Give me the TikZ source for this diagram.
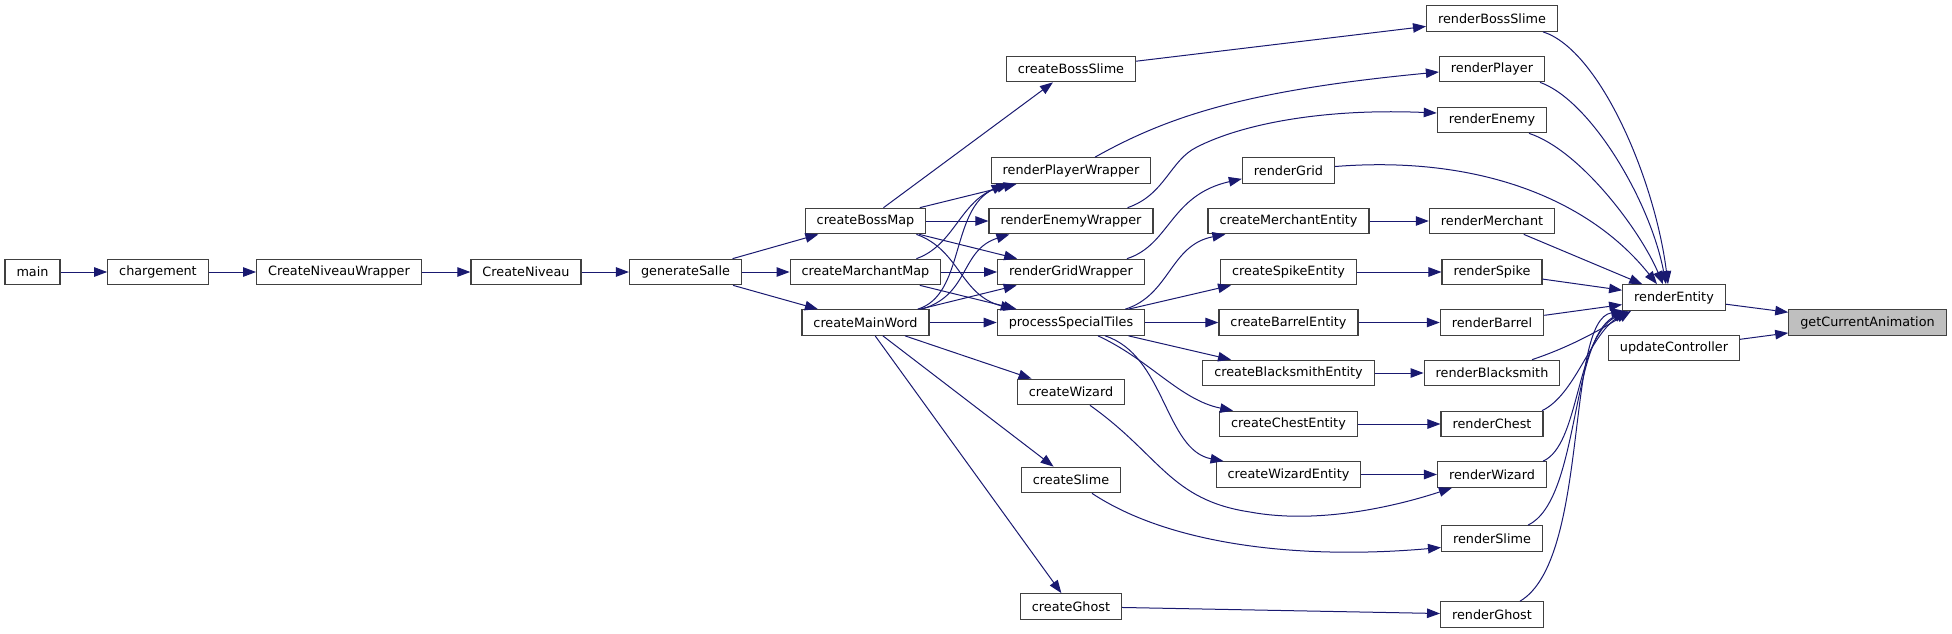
\documentclass[tikz,border=0pt]{standalone}
\usepackage{fontspec}
\setmainfont{DejaVu Sans}
\usepackage{tikz}
\usetikzlibrary{arrows.meta,positioning}

\definecolor{edgeblue}{HTML}{191970}
\definecolor{boxline}{HTML}{404040}
\definecolor{rootfill}{HTML}{BFBFBF}

\begin{document}
\begin{tikzpicture}[
    x=1pt, y=-1pt,
    fnnode/.style={rectangle, draw=boxline, line width=1.2pt, fill=white, minimum height=25.5pt, inner xsep=11.5pt, inner ysep=0pt, font=\fontsize{12.8}{15}\selectfont},
    fnroot/.style={fnnode, fill=rootfill},
    arrow/.style={-{Triangle[length=13pt,width=9.5pt]}, color=edgeblue, line width=1pt}
]
\useasboundingbox (0,0) rectangle (1952,633);

% left chain
\node[fnnode] (main) at (32.5,272) {main};
\node[fnnode] (charg) at (158,272) {chargement};
\node[fnnode] (cnw) at (339,272) {CreateNiveauWrapper};
\node[fnnode] (cn) at (526,272) {CreateNiveau};
\node[fnnode] (gsal) at (685.5,272) {generateSalle};

% maps
\node[fnnode] (cbm) at (865.5,221) {createBossMap};
\node[fnnode] (cmm) at (865.5,272) {createMarchantMap};
\node[fnnode] (cmw) at (865.5,322.5) {createMainWord};

% wrappers and creators
\node[fnnode] (cbs) at (1071,69) {createBossSlime};
\node[fnnode] (rpw) at (1071,170.5) {renderPlayerWrapper};
\node[fnnode] (rew) at (1071,221) {renderEnemyWrapper};
\node[fnnode] (rgw) at (1071,272) {renderGridWrapper};
\node[fnnode] (pst) at (1071,322.5) {processSpecialTiles};
\node[fnnode] (cwiz) at (1071,392) {createWizard};
\node[fnnode] (csl) at (1071,480) {createSlime};
\node[fnnode] (cgh) at (1071,606.5) {createGhost};

% entities
\node[fnnode] (rgrid) at (1288.5,170.5) {renderGrid};
\node[fnnode] (cme) at (1288.5,221) {createMerchantEntity};
\node[fnnode] (cse) at (1288.5,272) {createSpikeEntity};
\node[fnnode] (cbe) at (1288.5,322.5) {createBarrelEntity};
\node[fnnode] (cbse) at (1288.5,373) {createBlacksmithEntity};
\node[fnnode] (cce) at (1288.5,424) {createChestEntity};
\node[fnnode] (cwe) at (1288.5,474.5) {createWizardEntity};

% renderers
\node[fnnode] (rbs) at (1492,18.5) {renderBossSlime};
\node[fnnode] (rpl) at (1492,69) {renderPlayer};
\node[fnnode] (ren) at (1492,120) {renderEnemy};
\node[fnnode] (rme) at (1492,221) {renderMerchant};
\node[fnnode] (rsp) at (1492,272) {renderSpike};
\node[fnnode] (rba) at (1492,322.5) {renderBarrel};
\node[fnnode] (rbl) at (1492,373) {renderBlacksmith};
\node[fnnode] (rch) at (1492,424) {renderChest};
\node[fnnode] (rwi) at (1492,474.5) {renderWizard};
\node[fnnode] (rsl) at (1492,538.5) {renderSlime};
\node[fnnode] (rgh) at (1492,614.5) {renderGhost};

\node[fnnode] (rent) at (1674,297.5) {renderEntity};
\node[fnnode] (upc) at (1674,348) {updateController};
\node[fnroot] (gca) at (1867.5,322.5) {getCurrentAnimation};

% straight calls
\draw[arrow] (main) -- (charg);
\draw[arrow] (charg) -- (cnw);
\draw[arrow] (cnw) -- (cn);
\draw[arrow] (cn) -- (gsal);
\draw[arrow] (gsal) -- (cbm);
\draw[arrow] (gsal) -- (cmm);
\draw[arrow] (gsal) -- (cmw);
\draw[arrow] (cbm) -- (cbs);
\draw[arrow] (cbm) -- (rpw);
\draw[arrow] (cbm) -- (rew);
\draw[arrow] (cbm) -- (rgw);
\draw[arrow] (cmm) -- (rgw);
\draw[arrow] (cmm) -- (pst);
\draw[arrow] (cmw) -- (rgw);
\draw[arrow] (cmw) -- (pst);
\draw[arrow] (cmw) -- (cwiz);
\draw[arrow] (cmw) -- (csl);
\draw[arrow] (cmw) -- (cgh);
\draw[arrow] (cbs) -- (rbs);
\draw[arrow] (pst) -- (cse);
\draw[arrow] (pst) -- (cbe);
\draw[arrow] (pst) -- (cbse);
\draw[arrow] (cme) -- (rme);
\draw[arrow] (cse) -- (rsp);
\draw[arrow] (cbe) -- (rba);
\draw[arrow] (cbse) -- (rbl);
\draw[arrow] (cce) -- (rch);
\draw[arrow] (cwe) -- (rwi);
\draw[arrow] (cgh) -- (rgh);
\draw[arrow] (rme) -- (rent);
\draw[arrow] (rsp) -- (rent);
\draw[arrow] (rba) -- (rent);
\draw[arrow] (rent) -- (gca);
\draw[arrow] (upc) -- (gca);

% curved calls
\draw[arrow] ([xshift=-10pt]cbm.south east) .. controls (960,250) and (960,295) .. ([xshift=17pt]pst.north west);
\draw[arrow] ([xshift=-25pt]cmm.north east) .. controls (955,245) and (960,200) .. ([xshift=19pt]rpw.south west);
\draw[arrow] ([xshift=-12pt]cmw.north east) .. controls (965,295) and (950,210) .. ([xshift=14pt]rpw.south west);
\draw[arrow] ([xshift=-8pt]cmw.north east) .. controls (970,295) and (960,250) .. ([xshift=21pt]rew.south west);
\draw[arrow] ([xshift=24pt]rpw.north) .. controls (1170,115) and (1250,90) .. ([yshift=-3pt]rpl.west);
\draw[arrow] ([xshift=-26pt]rew.north east) .. controls (1165,195) and (1170,160) .. (1197,147)
    .. controls (1240,125) and (1320,108) .. ([yshift=7pt]ren.west);
\draw[arrow] ([xshift=-18pt]rgw.north east) .. controls (1170,245) and (1170,195) .. ([yshift=5pt]rgrid.south west);
\draw[arrow] ([xshift=-20pt]pst.north east) .. controls (1170,295) and (1170,245) .. ([xshift=18pt]cme.south west);
\draw[arrow] ([xshift=27pt]pst.south) .. controls (1150,360) and (1180,400) .. ([xshift=14pt]cce.north west);
\draw[arrow] ([xshift=34pt]pst.south) .. controls (1165,355) and (1165,450) .. ([xshift=8pt]cwe.north west);
\draw[arrow] ([xshift=19pt]cwiz.south) .. controls (1160,455) and (1170,500) .. (1250,512)
    .. controls (1320,525) and (1400,505) .. ([xshift=15pt]rwi.south west);
\draw[arrow] ([xshift=21pt]csl.south) .. controls (1170,545) and (1300,560) .. ([yshift=-9pt]rsl.west);

% into renderEntity
\draw[arrow] ([xshift=51pt]rbs.south) .. controls (1600,50) and (1655,180) .. ([xshift=-6pt]rent.north);
\draw[arrow] ([xshift=48pt]rpl.south) .. controls (1590,100) and (1650,200) .. ([xshift=-8pt]rent.north);
\draw[arrow] ([xshift=37pt]ren.south) .. controls (1580,150) and (1640,230) .. ([xshift=-11pt]rent.north);
\draw[arrow] ([yshift=4pt]rgrid.east) .. controls (1480,155) and (1590,200) .. ([xshift=-17pt]rent.north);
\draw[arrow] ([xshift=40pt]rbl.north) .. controls (1570,347) and (1600,330) .. ([xshift=9pt]rent.south west);
\draw[arrow] ([xshift=50pt]rch.north) .. controls (1575,395) and (1590,335) .. ([xshift=6pt]rent.south west);
\draw[arrow] ([xshift=51pt]rwi.north) .. controls (1580,445) and (1575,340) .. ([xshift=4pt]rent.south west);
\draw[arrow] ([xshift=36pt]rsl.north) .. controls (1580,500) and (1570,340) .. ([xshift=3pt]rent.south west);
\draw[arrow] ([xshift=28pt]rgh.north) .. controls (1590,560) and (1565,320) .. ([xshift=2pt]rent.south west);
\end{tikzpicture}
\end{document}
